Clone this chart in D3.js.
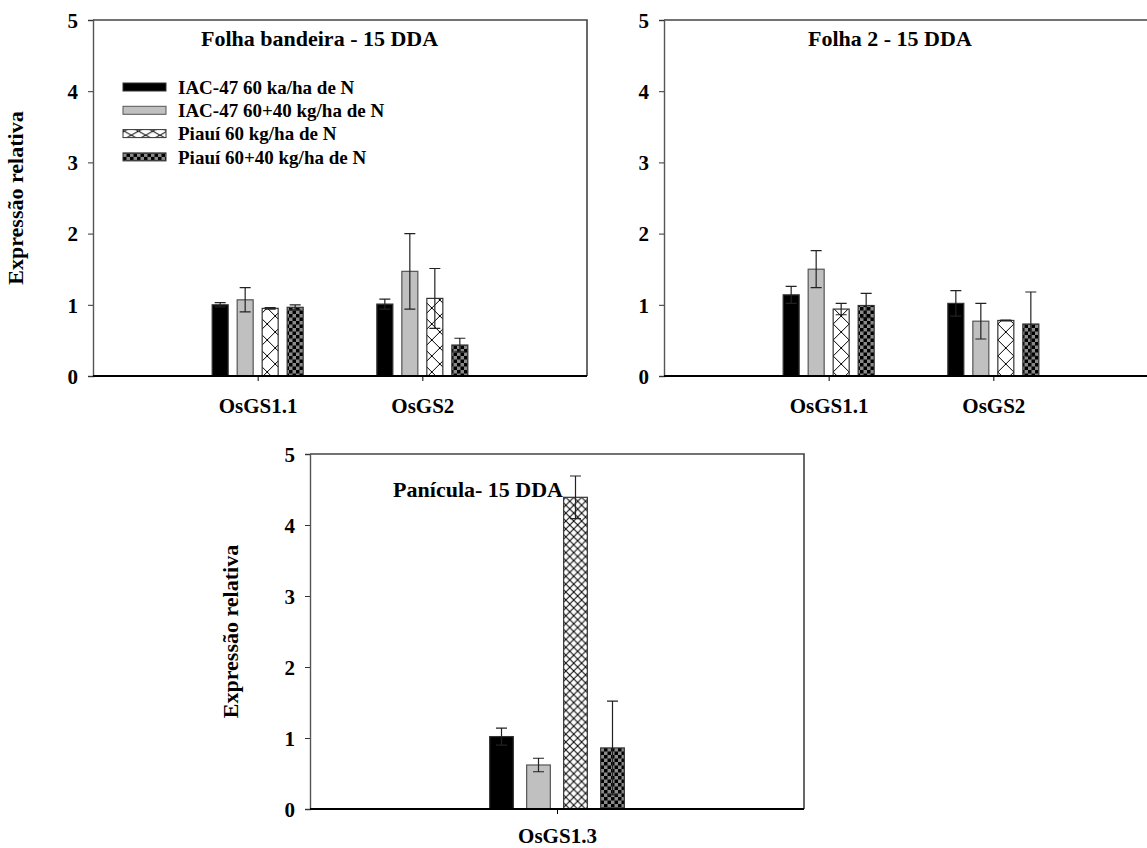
<!DOCTYPE html>
<html>
<head>
<meta charset="utf-8">
<script src="https://cdn.jsdelivr.net/npm/d3@7"></script>
<style>
  body { margin: 0; background: #fff; }
  svg { display: block; }
  text { font-family: "Liberation Serif", "Times New Roman", serif; font-weight: bold; fill: #000; }
</style>
</head>
<body>
<script>
// Treatments (one bar per treatment inside each gene group)
const series = ["IAC-47 60 ka/ha de N", "IAC-47 60+40 kg/ha de N", "Piauí 60 kg/ha de N", "Piauí 60+40 kg/ha de N"];
const yTicks = [0, 1, 2, 3, 4, 5];

// Flag leaf, 15 DAA
const flagTitle = "Folha bandeira - 15 DDA";
const flagGenes = ["OsGS1.1", "OsGS2"];
const flagValues = [[1.00, 1.07, 0.95, 0.965], [1.01, 1.47, 1.09, 0.435]];
const flagErrors = [[0.03, 0.17, 0.01, 0.035], [0.07, 0.53, 0.42, 0.095]];

// Leaf 2, 15 DAA
const leaf2Title = "Folha 2 - 15 DDA";
const leaf2Genes = ["OsGS1.1", "OsGS2"];
const leaf2Values = [[1.14, 1.50, 0.94, 0.99], [1.02, 0.77, 0.78, 0.73]];
const leaf2Errors = [[0.12, 0.26, 0.08, 0.17], [0.18, 0.25, 0.005, 0.45]];

// Panicle, 15 DAA
const panicleTitle = "Panícula- 15 DDA";
const panicleGenes = ["OsGS1.3"];
const panicleValues = [[1.02, 0.62, 4.39, 0.86]];
const panicleErrors = [[0.12, 0.095, 0.30, 0.66]];

const yLabel = "Expressão relativa";

const W = 1147, H = 848;
const svg = d3.select("body").append("svg").attr("width", W).attr("height", H);
const defs = svg.append("defs");

// Checkerboard fill
function checker(id, s) {
  const p = defs.append("pattern").attr("id", id).attr("patternUnits", "userSpaceOnUse")
    .attr("width", 2 * s).attr("height", 2 * s);
  p.append("rect").attr("width", 2 * s).attr("height", 2 * s).attr("fill", "#8a8a8a");
  p.append("rect").attr("width", s).attr("height", s).attr("fill", "#000");
  p.append("rect").attr("x", s).attr("y", s).attr("width", s).attr("height", s).attr("fill", "#000");
}
// Diagonal cross-hatch fill, one diamond per (w x h) cell
let hatchCount = 0;
function hatch(x, y, w, h) {
  const id = "hatch" + (hatchCount++);
  const p = defs.append("pattern").attr("id", id).attr("patternUnits", "userSpaceOnUse")
    .attr("x", x).attr("y", y).attr("width", w).attr("height", h);
  p.append("rect").attr("width", w).attr("height", h).attr("fill", "#fff");
  p.append("path").attr("d", `M0,0L${w},${h}M${w},0L0,${h}`)
    .attr("stroke", "#000").attr("stroke-width", 1).attr("fill", "none");
  return "url(#" + id + ")";
}
checker("checkSmall", 3.5);

const barStyle = [
  { fill: () => "#000", stroke: "#333" },
  { fill: () => "#c0c0c0", stroke: "#555" },
  { fill: null, stroke: "#333" },
  { fill: () => "url(#checkSmall)", stroke: "#333" }
];

function panel(opt) {
  const { left, top, width, height, genes, values, errors, title, titleX, titleY, titleAnchor,
          groupHalf, hatchDiv, showYLabel, yLabelX, catOffset } = opt;
  const g = svg.append("g").attr("transform", `translate(${left},${top})`);
  const y = d3.scaleLinear().domain([0, 5]).range([height, 0]);
  const x = d3.scalePoint().domain(genes).range([0, width]).padding(1);
  const x1 = d3.scaleBand().domain(series).range([-groupHalf, groupHalf]).paddingInner(0.36).paddingOuter(0.18);
  const bw = x1.bandwidth();

  // frame (top and right)
  g.append("path").attr("d", `M0,0H${width}V${height}`).attr("fill", "none")
    .attr("stroke", "#444").attr("stroke-width", 1.6);

  genes.forEach((gene, gi) => {
    const cx = x(gene);
    series.forEach((s, si) => {
      const v = values[gi][si], e = errors[gi][si];
      const bx = cx + x1(s);
      const by = y(v);
      let fill;
      if (si === 2) fill = hatch(left + bx, top + y(0), bw / hatchDiv, bw / hatchDiv);
      else fill = barStyle[si].fill();
      g.append("rect").attr("x", bx).attr("y", by).attr("width", bw).attr("height", y(0) - by)
        .attr("fill", fill).attr("stroke", barStyle[si].stroke).attr("stroke-width", 1.2);
      // error bar
      const ex = bx + bw / 2, cap = 5.5;
      const ePath = `M${ex},${y(v + e)}V${y(v - e)}M${ex - cap},${y(v + e)}H${ex + cap}M${ex - cap},${y(v - e)}H${ex + cap}`;
      g.append("path").attr("d", ePath).attr("stroke", "#222").attr("stroke-width", 1.2).attr("fill", "none");
    });
  });

  // axes
  const ya = g.append("g").call(d3.axisLeft(y).tickValues(yTicks).tickSize(5).tickPadding(10).tickFormat(d3.format("d")));
  ya.select(".domain").attr("stroke", "#555").attr("stroke-width", 1.4);
  ya.selectAll(".tick line").attr("stroke", "#333");
  ya.selectAll("text").style("font-size", "21px").attr("dy", "0.35em");

  const xa = g.append("g").attr("transform", `translate(0,${height})`)
    .call(d3.axisBottom(x).tickSize(5));
  xa.select(".domain").attr("stroke", "#000").attr("stroke-width", 1.8).attr("d", `M0,0H${width}`);
  xa.selectAll(".tick line").attr("stroke", "#000");
  xa.selectAll("text").style("font-size", "21px").attr("y", catOffset).attr("dy", null);

  g.append("text").attr("x", titleX).attr("y", titleY).attr("text-anchor", titleAnchor || "start")
    .style("font-size", "22px").text(title);

  if (showYLabel) {
    g.append("text").attr("transform", `translate(${yLabelX},${height / 2}) rotate(-90)`)
      .attr("text-anchor", "middle").style("font-size", "22px").text(yLabel);
  }
  return g;
}

const p1 = panel({ left: 93, top: 20, width: 494, height: 356, genes: flagGenes, values: flagValues, errors: flagErrors,
  title: flagTitle, titleX: 108, titleY: 26, groupHalf: 50, hatchDiv: 1, showYLabel: true, yLabelX: -70, catOffset: 37 });
panel({ left: 664, top: 20, width: 494, height: 356, genes: leaf2Genes, values: leaf2Values, errors: leaf2Errors,
  title: leaf2Title, titleX: 144, titleY: 26, groupHalf: 50, hatchDiv: 1, showYLabel: false, catOffset: 37 });
panel({ left: 310, top: 454, width: 494, height: 355, genes: panicleGenes, values: panicleValues, errors: panicleErrors,
  title: panicleTitle, titleX: 253, titleY: 43, titleAnchor: "end", groupHalf: 74, hatchDiv: 3,
  showYLabel: true, yLabelX: -72, catOffset: 34 });

// legend in the flag-leaf panel
const lg = p1.append("g").attr("transform", "translate(30,67)");
series.forEach((s, i) => {
  const row = lg.append("g").attr("transform", `translate(0,${i * 23.3})`);
  let fill;
  if (i === 2) fill = hatch(93 + 30, 20 + 67 + i * 23.3 - 4, 43 / 3, 8);
  else fill = barStyle[i].fill();
  row.append("rect").attr("x", 0).attr("y", -4).attr("width", 43).attr("height", 8)
    .attr("fill", fill).attr("stroke", barStyle[i].stroke).attr("stroke-width", 1);
  row.append("text").attr("x", 55).attr("y", 0).attr("dy", "0.35em").style("font-size", "19px").text(s);
});
</script>
</body>
</html>
